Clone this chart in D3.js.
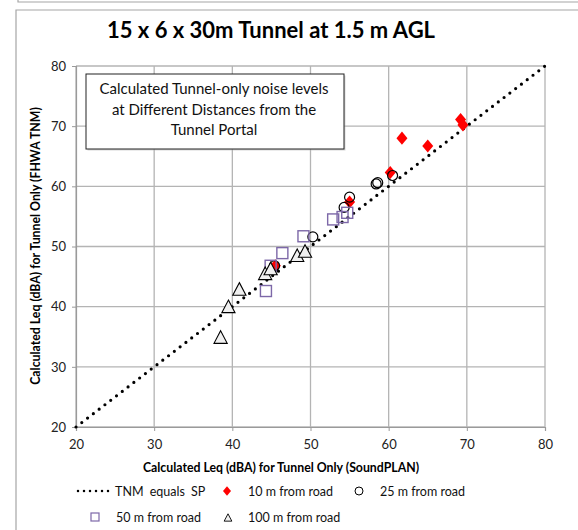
<!DOCTYPE html>
<html>
<head>
<meta charset="utf-8">
<script src="https://cdn.jsdelivr.net/npm/d3@7"></script>
<style>
  body { margin: 0; background: #fff; }
  svg { display: block; font-family: Lato, "Open Sans", sans-serif; }
</style>
</head>
<body>
<div id="svgContainer"></div>
<script>
var width = 578,
    height = 530;

// data: [SoundPLAN, TNM]
var ticks = [20, 30, 40, 50, 60, 70, 80];
var lineEqual = [[20, 20], [80, 80]];
var road10 = [[45.5, 46.8], [55.0, 57.4], [60.2, 62.3], [61.7, 68.0], [65.0, 66.7], [69.2, 71.1], [69.5, 70.2]];
var road25 = [[45.4, 46.8], [50.3, 51.6], [54.3, 56.5], [55.0, 58.2], [58.4, 60.4], [58.6, 60.6], [60.5, 61.8]];
var road50 = [[44.3, 42.6], [44.9, 46.8], [46.4, 48.9], [49.1, 51.7], [52.9, 54.5], [54.1, 54.9], [54.7, 55.6]];
var road100 = [[38.5, 34.8], [39.5, 39.9], [40.9, 42.8], [44.2, 45.4], [44.9, 46.2], [48.3, 48.4], [49.3, 49.1]];
var noteLines = ["Calculated Tunnel-only noise levels", "at Different Distances from the", "Tunnel Portal"];

var margin = {left: 76, top: 66, right: 545, bottom: 427};

var svg = d3.select("#svgContainer").append("svg")
    .attr("width", width)
    .attr("height", height);

// frames
svg.append("path")
    .attr("d", "M18,0 V2 H578")
    .attr("fill", "none").attr("stroke", "#a6a6a6").attr("stroke-width", 1.2);
svg.append("path")
    .attr("d", "M578,10 H16 V530")
    .attr("fill", "none").attr("stroke", "#a6a6a6").attr("stroke-width", 1.2);

var x = d3.scaleLinear().domain([20, 80]).range([margin.left, margin.right]);
var y = d3.scaleLinear().domain([20, 80]).range([margin.bottom, margin.top]);

// gridlines
var grid = svg.append("g").attr("stroke", "#b4b4b4").attr("stroke-width", 1.3);
grid.selectAll(".gx").data(ticks).enter().append("line")
    .attr("x1", d => x(d)).attr("x2", d => x(d))
    .attr("y1", margin.top).attr("y2", margin.bottom);
grid.selectAll(".gy").data(ticks).enter().append("line")
    .attr("y1", d => y(d)).attr("y2", d => y(d))
    .attr("x1", margin.left).attr("x2", margin.right);

// axes
var xAxis = svg.append("g")
    .attr("transform", "translate(0," + margin.bottom + ")")
    .call(d3.axisBottom(x).tickValues(ticks).tickSize(4).tickPadding(9).tickFormat(d3.format("d")));
var yAxis = svg.append("g")
    .attr("transform", "translate(" + margin.left + ",0)")
    .call(d3.axisLeft(y).tickValues(ticks).tickSize(4).tickPadding(6).tickFormat(d3.format("d")));
[xAxis, yAxis].forEach(a => {
    a.select(".domain").attr("stroke", "#9a9a9a").attr("stroke-width", 1.2);
    a.selectAll(".tick line").attr("stroke", "#9a9a9a");
    a.selectAll("text").attr("font-family", "Lato, sans-serif").attr("font-size", 13).attr("fill", "#222");
});

// 1:1 line
svg.append("path")
    .datum(lineEqual)
    .attr("d", d3.line().x(d => x(d[0])).y(d => y(d[1])))
    .attr("fill", "none")
    .attr("stroke", "#000")
    .attr("stroke-width", 3.2)
    .attr("stroke-linecap", "round")
    .attr("stroke-dasharray", "0 7.3");

var diamond = s => "M0," + (-s * 0.6) + "L" + (s * 0.5) + ",0L0," + (s * 0.6) + "L" + (-s * 0.5) + ",0Z";
var triangle = s => "M0," + (-s * 0.6) + "L" + (s * 0.55) + "," + (s * 0.45) + "L" + (-s * 0.55) + "," + (s * 0.45) + "Z";

svg.append("g").selectAll("path").data(road10).enter().append("path")
    .attr("transform", d => "translate(" + x(d[0]) + "," + y(d[1]) + ")")
    .attr("d", diamond(11))
    .attr("fill", "#ff0000");

svg.append("g").selectAll("circle").data(road25).enter().append("circle")
    .attr("cx", d => x(d[0])).attr("cy", d => y(d[1]))
    .attr("r", 5)
    .attr("fill", "none").attr("stroke", "#000").attr("stroke-width", 1.2);

svg.append("g").selectAll("rect").data(road50).enter().append("rect")
    .attr("x", d => x(d[0]) - 5.5).attr("y", d => y(d[1]) - 5.5)
    .attr("width", 11).attr("height", 11)
    .attr("fill", "none").attr("stroke", "#7d68a8").attr("stroke-width", 1.4);

svg.append("g").selectAll("path").data(road100).enter().append("path")
    .attr("transform", d => "translate(" + x(d[0]) + "," + y(d[1]) + ")")
    .attr("d", triangle(12))
    .attr("fill", "#f0f0f0").attr("stroke", "#000").attr("stroke-width", 1.1);

// note box
svg.append("rect")
    .attr("x", 87.5).attr("y", 75.5).attr("width", 258).attr("height", 75)
    .attr("fill", "#b0b0b0").attr("opacity", 0.5);
svg.append("rect")
    .attr("x", 86).attr("y", 74).attr("width", 258).attr("height", 75)
    .attr("fill", "#fff").attr("stroke", "#222").attr("stroke-width", 1);
svg.append("g").selectAll("text").data(noteLines).enter().append("text")
    .attr("x", 214).attr("y", (d, i) => 94 + i * 20.5)
    .attr("text-anchor", "middle")
    .attr("font-size", 15)
    .attr("fill", "#111")
    .text(d => d);

// title
svg.append("text")
    .attr("x", 271).attr("y", 38)
    .attr("text-anchor", "middle")
    .attr("font-weight", "bold")
    .attr("font-size", 22)
    .text("15 x 6 x 30m Tunnel at 1.5 m AGL");

// axis titles
svg.append("text")
    .attr("x", 281).attr("y", 472)
    .attr("text-anchor", "middle")
    .attr("font-weight", "bold")
    .attr("font-size", 12.3)
    .text("Calculated  Leq (dBA) for Tunnel Only (SoundPLAN)");
svg.append("text")
    .attr("transform", "translate(40,246) rotate(-90)")
    .attr("text-anchor", "middle")
    .attr("font-weight", "bold")
    .attr("font-size", 12.3)
    .text("Calculated Leq (dBA) for Tunnel Only (FHWA TNM)");

// legend
var lg = svg.append("g").attr("font-size", 12.5).attr("fill", "#111");
lg.append("line")
    .attr("x1", 78).attr("x2", 109).attr("y1", 491).attr("y2", 491)
    .attr("stroke", "#000").attr("stroke-width", 2.5)
    .attr("stroke-linecap", "round").attr("stroke-dasharray", "0 6");
lg.append("text").attr("x", 115).attr("y", 495.5).attr("word-spacing", 3).text("TNM equals SP");
lg.append("path").attr("transform", "translate(227,491)").attr("d", diamond(8)).attr("fill", "#ff0000");
lg.append("text").attr("x", 248).attr("y", 495.5).text("10 m from road");
lg.append("circle").attr("cx", 359).attr("cy", 491).attr("r", 4)
    .attr("fill", "none").attr("stroke", "#000").attr("stroke-width", 1);
lg.append("text").attr("x", 380).attr("y", 495.5).text("25 m from road");
lg.append("rect").attr("x", 91).attr("y", 513).attr("width", 8).attr("height", 8)
    .attr("fill", "none").attr("stroke", "#7d68a8").attr("stroke-width", 1.2);
lg.append("text").attr("x", 116).attr("y", 521.5).text("50 m from road");
lg.append("path").attr("transform", "translate(228,518)").attr("d", triangle(7))
    .attr("fill", "#f0f0f0").attr("stroke", "#000").attr("stroke-width", 0.9);
lg.append("text").attr("x", 248).attr("y", 521.5).text("100 m from road");
</script>
</body>
</html>
